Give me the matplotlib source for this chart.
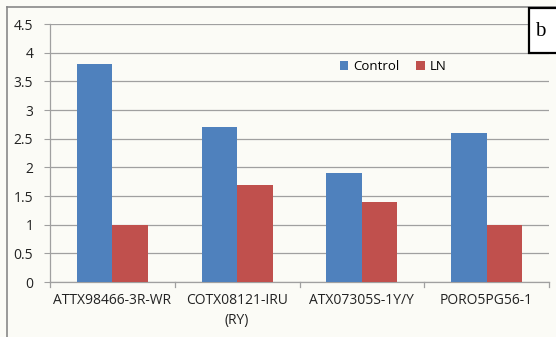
import matplotlib
matplotlib.use("Agg")
import matplotlib.pyplot as plt
from matplotlib.patches import Rectangle
import numpy as np

categories = ["ATTX98466-3R-WR", "COTX08121-IRU\n(RY)", "ATX07305S-1Y/Y", "PORO5PG56-1"]
control = [3.8, 2.7, 1.9, 2.6]
ln = [1.0, 1.7, 1.4, 1.0]
yticks = [0, 0.5, 1, 1.5, 2, 2.5, 3, 3.5, 4, 4.5]
ytick_labels = ["0", "0.5", "1", "1.5", "2", "2.5", "3", "3.5", "4", "4.5"]

plt.rcParams["font.family"] = ["Open Sans", "DejaVu Sans"]

W, H = 556, 337
fig = plt.figure(figsize=(W / 100, H / 100), dpi=100, facecolor="#fbfbf6")
ax = fig.add_axes([50 / W, 1 - 282 / H, (549 - 50) / W, (282 - 24) / H])
ax.set_facecolor("none")

x = np.arange(len(categories))
bw = 0.285
ax.bar(x - bw / 2, control, bw, color="#4f81bd", label="Control", zorder=3)
ax.bar(x + bw / 2, ln, bw, color="#c0504d", label="LN", zorder=3)

ax.set_xlim(-0.5, len(categories) - 0.5)
ax.set_ylim(0, 4.5)
ax.set_yticks(yticks)
ax.set_yticklabels(ytick_labels, fontsize=10, color="#222222")
ax.yaxis.grid(True, color="#a0a0a0", linewidth=0.9, zorder=0)
ax.set_xticks(x)
ax.set_xticklabels(categories, fontsize=10, color="#222222", linespacing=1.45)
ax.tick_params(axis="x", length=0, pad=8)
ax.tick_params(axis="y", length=4, color="#a0a0a0", pad=8)

# category boundary ticks below the axis
for b in np.arange(-0.5, len(categories), 1.0):
    ax.plot([b, b], [0, -0.09], color="#a0a0a0", lw=0.9, clip_on=False, zorder=2)

for s in ["top", "right"]:
    ax.spines[s].set_visible(False)
ax.spines["bottom"].set_color("#a0a0a0")
ax.spines["left"].set_color("#a0a0a0")
ax.spines["bottom"].set_linewidth(0.9)
ax.spines["left"].set_linewidth(0.9)

leg = ax.legend(loc="upper left", bbox_to_anchor=(283 / 499, 0.885), ncol=2, frameon=False,
                fontsize=9.5, handlelength=0.65, handleheight=0.65, handletextpad=0.35,
                columnspacing=1.3, borderpad=0)

# outer chart frame lines
fig.add_artist(plt.Line2D([7 / W, 7 / W], [0, 1 - 7 / H], color="#888888", lw=1.2))
fig.add_artist(plt.Line2D([7 / W, 1], [1 - 7 / H, 1 - 7 / H], color="#888888", lw=1.2))

# panel label box
fig.add_artist(Rectangle((529 / W, 1 - 53 / H), 40 / W, 45 / H, transform=fig.transFigure,
                         facecolor="white", edgecolor="black", lw=1.6, zorder=5))
fig.text(535 / W, 1 - 31 / H, "b", fontsize=15, family="Liberation Serif",
         va="center", ha="left", zorder=6)

fig.savefig("out.png", dpi=100, facecolor=fig.get_facecolor())
